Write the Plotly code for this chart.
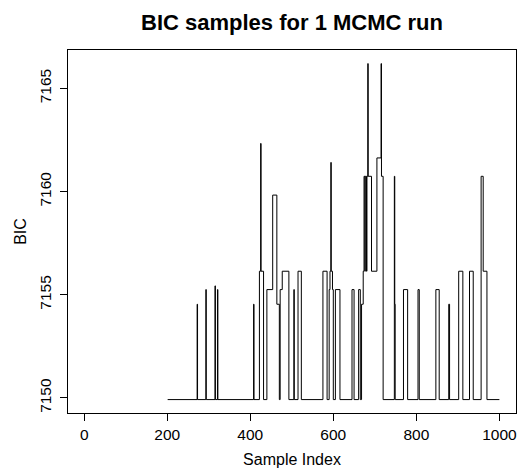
import plotly.graph_objects as go

# Step-change points of the BIC trace (sample index where a new value starts)
change_index = [201, 272, 273, 293, 294, 315, 316, 321, 322,
                408, 409, 422, 425, 426, 432, 440, 454, 464, 470, 472, 477, 493,
                505, 506, 515, 523, 575, 585, 590, 592, 594, 595, 598, 600, 605, 616,
                645, 650, 661, 665, 668, 672, 674, 676, 677, 680, 681, 683, 684, 692,
                705, 715, 716, 720, 747, 748, 749, 769, 779, 804, 807, 847, 855,
                878, 880, 902, 912, 928, 937, 956, 961, 970]
bic_value = [7149.92, 7154.54, 7149.92, 7155.25, 7149.92, 7155.43, 7149.92, 7155.25, 7149.92,
             7154.54, 7149.92, 7156.14, 7162.33, 7156.14, 7149.92, 7155.25, 7159.83, 7154.54, 7149.92, 7155.25, 7156.14, 7149.92,
             7155.25, 7149.92, 7156.14, 7149.92, 7156.14, 7149.92, 7155.25, 7156.14, 7161.41, 7156.14, 7155.25, 7149.92, 7155.25, 7149.92,
             7155.25, 7149.92, 7155.25, 7149.92, 7154.54, 7156.14, 7160.74, 7156.14, 7160.74, 7156.14, 7160.74, 7166.20, 7160.74, 7156.14,
             7161.63, 7166.20, 7160.74, 7149.92, 7160.74, 7154.54, 7149.92, 7155.25, 7149.92, 7155.25, 7149.92, 7155.25, 7149.92,
             7154.54, 7149.92, 7156.14, 7149.92, 7156.14, 7149.92, 7160.74, 7156.14, 7149.92]
last_index = 1000

x_ticks = [0, 200, 400, 600, 800, 1000]
y_ticks = [7150, 7155, 7160, 7165]

xs = change_index + [last_index]
ys = bic_value + [bic_value[-1]]

fig = go.Figure()
fig.add_trace(go.Scatter(x=xs, y=ys, mode="lines", line=dict(color="black", width=1, shape="hv"),
                         hoverinfo="skip", showlegend=False))

font = "Liberation Sans, Arial, sans-serif"
fig.update_layout(
    width=530, height=468,
    margin=dict(l=68, r=14, t=50, b=55, autoexpand=False),
    paper_bgcolor="white", plot_bgcolor="white",
    font=dict(family=font, size=16, color="black"),
    title=dict(text="<b>BIC samples for 1 MCMC run</b>", x=(68 + 516) / 2 / 530, xanchor="center",
               y=1 - 22 / 468, yanchor="middle", yref="container",
               font=dict(size=22, family=font, color="black")),
)
fig.update_xaxes(range=[-39, 1040], tickvals=x_ticks, ticktext=[str(v) for v in x_ticks],
                 showgrid=False, zeroline=False, showline=True, linecolor="black", linewidth=1,
                 mirror=True, ticks="outside", ticklen=7, tickcolor="black", automargin=False,
                 tickfont=dict(size=15.5), title=dict(text="Sample Index", font=dict(size=16), standoff=16))
fig.update_yaxes(range=[7149.27, 7166.86], tickvals=y_ticks, ticktext=[str(v) for v in y_ticks],
                 tickangle=-90, showgrid=False, zeroline=False, showline=True, linecolor="black", linewidth=1,
                 mirror=True, ticks="outside", ticklen=7, tickcolor="black", automargin=False,
                 ticklabelstandoff=3,
                 tickfont=dict(size=15.5), title=dict(text="BIC", font=dict(size=16), standoff=6))

fig.write_html("out.html", config={"displayModeBar": False, "staticPlot": True},
               post_script="document.body.style.margin='0';document.body.style.padding='0';")
